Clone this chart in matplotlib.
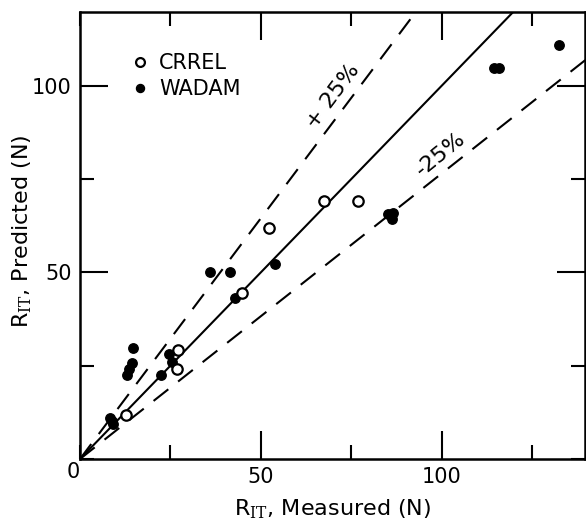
import numpy as np
import matplotlib
matplotlib.use("Agg")
import matplotlib.pyplot as plt
from matplotlib.ticker import MultipleLocator

# measured vs predicted resistance (N)
crrel_measured = [12.7, 26.7, 27.0, 44.7, 52.3, 67.5, 76.9]
crrel_predicted = [11.8, 24.0, 29.2, 44.4, 61.8, 69.2, 69.2]

wadam_measured = [8.3, 9.2, 8.8, 13.1, 13.6, 14.3, 14.7, 22.3, 24.7, 25.3,
                  35.9, 41.4, 42.8, 53.9, 85.2, 86.6, 86.1, 114.4, 115.8, 132.3]
wadam_predicted = [10.9, 9.5, 10.2, 22.5, 24.0, 25.6, 29.6, 22.5, 28.1, 26.1,
                   50.2, 50.2, 43.0, 52.2, 65.6, 65.8, 64.2, 104.8, 104.7, 110.9]

upper_slope = 1.29   # "+25%" line as drawn
lower_slope = 0.765  # "-25%" line as drawn

plt.rcParams['font.family'] = ['DejaVu Sans']
plt.rcParams['mathtext.fontset'] = 'dejavuserif'

fig = plt.figure(figsize=(5.86, 5.21), dpi=100)
ax = fig.add_axes([0.1365, 0.119, 0.8615, 0.858])

xx = np.array([0, 140])
ax.plot(xx, xx, color='black', lw=1.5)
ax.plot(xx, upper_slope * xx, color='black', lw=1.5, dashes=(9, 6))
ax.plot(xx, lower_slope * xx, color='black', lw=1.5, dashes=(9, 6))

ax.plot(wadam_measured, wadam_predicted, 'o', color='black', ms=6.8,
        label='WADAM', zorder=3)
ax.plot(crrel_measured, crrel_predicted, 'o', mfc='white', mec='black',
        mew=1.6, ms=7.5, label='CRREL', zorder=4)

ax.text(70, 97, '+ 25%', rotation=53, ha='center', va='center', fontsize=16)
ax.text(99.5, 81.5, '-25%', rotation=39, ha='center', va='center', fontsize=16)

h, l = ax.get_legend_handles_labels()
leg = ax.legend(h[::-1], l[::-1], loc='upper left', bbox_to_anchor=(0.07, 0.95),
                frameon=False, fontsize=15, handlelength=0.6, handletextpad=0.6,
                labelspacing=0.3, markerscale=0.85)

ax.set_xlim(0, 139.5)
ax.set_ylim(0, 119.7)
ax.set_xticks([50, 100])
ax.set_yticks([50, 100])
ax.xaxis.set_minor_locator(MultipleLocator(25))
ax.yaxis.set_minor_locator(MultipleLocator(25))
ax.tick_params(which='both', direction='in', top=True, right=True, width=1.5,
               labelsize=15, pad=6)
ax.tick_params(which='major', length=20)
ax.tick_params(which='minor', length=10)
for s in ax.spines.values():
    s.set_linewidth(1.8)

ax.text(-1.9, -3.6, '0', ha='center', va='center', fontsize=15)

ax.set_xlabel(r'R$_{\mathrm{IT}}$, Measured (N)', fontsize=16)
ax.set_ylabel(r'R$_{\mathrm{IT}}$, Predicted (N)', fontsize=16)
ax.xaxis.set_label_coords(0.5, -0.085)
ax.yaxis.set_label_coords(-0.092, 0.51)

fig.savefig('out.png', dpi=100)
